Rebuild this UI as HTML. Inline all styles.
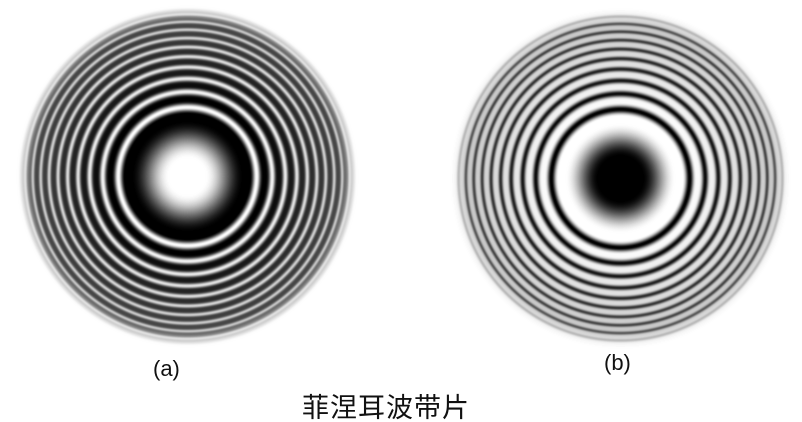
<!DOCTYPE html>
<html><head><meta charset="utf-8"><style>
html,body{margin:0;padding:0;background:#fff;width:802px;height:422px;overflow:hidden}
#wrap{position:relative;width:802px;height:422px}
canvas{position:absolute;left:0;top:0}
.lbl{position:absolute;font-family:"Liberation Sans","Noto Sans CJK SC",sans-serif;color:#111}
</style></head><body>
<div id="wrap">
<canvas id="c" width="802" height="422"></canvas>
<div class="lbl" style="left:153px;top:356px;font-size:22px">(a)</div>
<div class="lbl" style="left:604px;top:350px;font-size:22px">(b)</div>
<div class="lbl" style="left:302px;top:386px;font-size:27px;letter-spacing:1px">菲涅耳波带片</div>
</div>
<script>
// plate parameters
const plateCenters = [[187,176],[620,178]];
const plateRadii = [163,162];
const zoneRadius = [34.6,34.6];
const polarity = [1,-1];
const c=document.getElementById('c'),ctx=c.getContext('2d');
const img=ctx.createImageData(802,422),d=img.data;
function sm(a,b,x){let t=Math.min(1,Math.max(0,(x-a)/(b-a)));return t*t*(3-2*t);}
for(let y=0;y<422;y++)for(let x=0;x<802;x++){
  let v=1;
  for(let k=0;k<2;k++){
    const dx=x-plateCenters[k][0],dy=y-plateCenters[k][1];
    const r=Math.sqrt(dx*dx+dy*dy),R=plateRadii[k];
    if(r>R+12)continue;
    const ph=Math.PI*r*r/(zoneRadius[k]*zoneRadius[k]);
    let f=Math.cos(ph);
    let w=Math.pow((1+f)/2,2.0);
    let s=2*w-1;
    const q=Math.min(1,Math.max(0,(r-60)/(R-60)));
    const amp=0.55-0.33*q;
    let mean=0.48+0.06*q;
    let I=polarity[k]>0? mean+amp*s : mean-amp*s;
    if(r<58){
      I=polarity[k]>0? 1-sm(18,56,r) : sm(22,55,r);
    }
    I=Math.max(0,Math.min(1,I));
    let t=sm(R-10,R+8,r);
    v=I*(1-t)+1*t;
  }
  const i=(y*802+x)*4,g=Math.round(v*255);
  d[i]=d[i+1]=d[i+2]=g;d[i+3]=255;
}
ctx.putImageData(img,0,0);
</script>
</body></html>
